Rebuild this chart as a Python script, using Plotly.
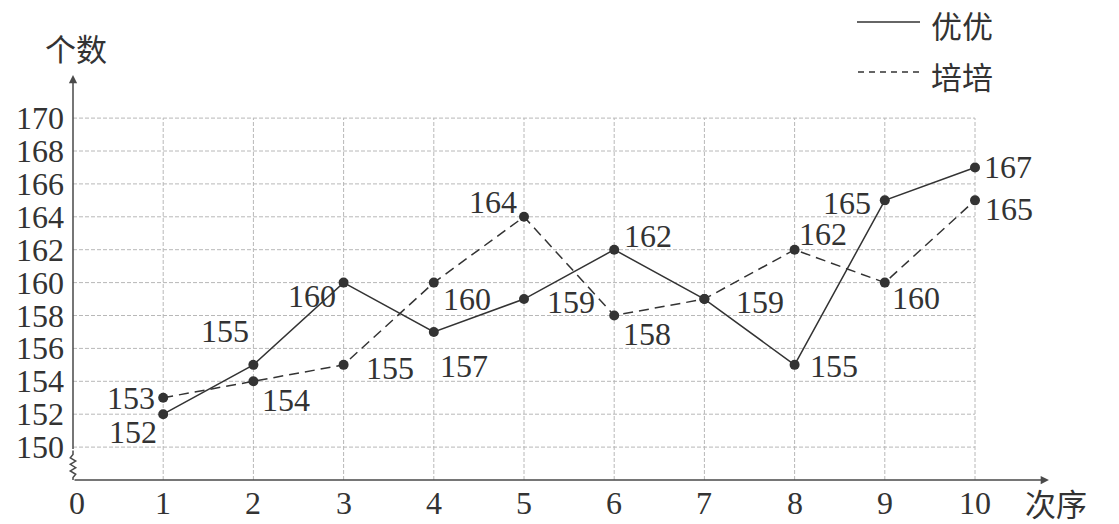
import plotly.graph_objects as go

# ---- data ----
orders = [1, 2, 3, 4, 5, 6, 7, 8, 9, 10]
youyou = [152, 155, 160, 157, 159, 162, 159, 155, 165, 167]
peipei = [153, 154, 155, 160, 164, 158, 159, 162, 160, 165]
x_tick_labels = [0, 1, 2, 3, 4, 5, 6, 7, 8, 9, 10]
y_tick_labels = [150, 152, 154, 156, 158, 160, 162, 164, 166, 168, 170]
series_names = ["优优", "培培"]
x_title = "次序"
y_title = "个数"

# ---- style ----
PAD = 8                      # default page body margin
W, H = 1119 - PAD, 524 - PAD
X0PX, XPU = 73.0, 90.2       # window pixel of x=0, pixels per unit
YB, YBPX, YPU = 148.0, 480.0, 16.45  # axis baseline value, its window pixel, px per unit
xr = [-(X0PX - PAD) / XPU, (W - (X0PX - PAD)) / XPU]
yr = [YB - (H - (YBPX - PAD)) / YPU, YB + (YBPX - PAD) / YPU]

INK = "#333333"
AX = "#4a4a4a"
GRID = "#b8b8b8"
FONT = "Liberation Serif, Noto Sans CJK SC, serif"
CJK = "Noto Sans CJK SC, sans-serif"
FS = 32
CFS = 31


def px2x(p):
    return (p - X0PX) / XPU


def py2y(p):
    return YB + (YBPX - p) / YPU


# label offsets in pixels (dx, dy with +dy downward)
off_y = [(-30, 18), (-28, -34), (-32, 13), (30, 34), (47, 3), (34, -14), (56, 3), (39, 1), (-38, 3), (33, 0)]
off_p = [(-32, 0), (33, 19), (46, 3), (33, 16), (-31, -15), (33, 18), None, (28, -16), (31, 15), (34, 9)]

fig = go.Figure()

shapes = []
# grid
for v in y_tick_labels:
    shapes.append(dict(type="line", xref="x", yref="y", x0=0, x1=10, y0=v, y1=v,
                       line=dict(color=GRID, width=1, dash="4px,2px"), layer="below"))
for xv in x_tick_labels[1:]:
    shapes.append(dict(type="line", xref="x", yref="y", x0=xv, x1=xv, y0=YB, y1=max(y_tick_labels),
                       line=dict(color=GRID, width=1, dash="4px,2px"), layer="below"))
# y-axis zigzag break
zx = 0.03
path = (f"M 0,{YB} L 0,{YB+0.15} L {zx},{YB+0.35} L {-zx},{YB+0.55} L {zx},{YB+0.75} "
        f"L {-zx},{YB+0.95} L {zx},{YB+1.15} L {-zx},{YB+1.35} L 0,{YB+1.55} L 0,{YB+1.8}")
shapes.append(dict(type="path", xref="x", yref="y", path=path, line=dict(color=AX, width=1.5)))
# legend lines
shapes.append(dict(type="line", xref="x", yref="y", x0=px2x(857), x1=px2x(920), y0=py2y(22), y1=py2y(22),
                   line=dict(color=INK, width=1.5)))
shapes.append(dict(type="line", xref="x", yref="y", x0=px2x(858), x1=px2x(920), y0=py2y(72), y1=py2y(72),
                   line=dict(color=INK, width=1.5, dash="6px,5px")))

ann = []
# axes with arrows
ann.append(dict(x=10.82, y=YB, ax=0, ay=YB, xref="x", yref="y", axref="x", ayref="y", text="",
                showarrow=True, arrowhead=2, arrowsize=1.1, arrowwidth=1.5, arrowcolor=AX))
ann.append(dict(x=0, y=py2y(75), ax=0, ay=YB + 1.8, xref="x", yref="y", axref="x", ayref="y", text="",
                showarrow=True, arrowhead=2, arrowsize=1.1, arrowwidth=1.5, arrowcolor=AX))
# tick labels
for v in y_tick_labels:
    ann.append(dict(x=px2x(66), y=v, xref="x", yref="y", text=str(v), showarrow=False,
                    xanchor="right", yanchor="middle", font=dict(family=FONT, size=FS, color=INK)))
for xv in x_tick_labels:
    ann.append(dict(x=xv + (0.04 if xv == 0 else 0), y=py2y(503), xref="x", yref="y", text=str(xv),
                    showarrow=False, xanchor="center", yanchor="middle",
                    font=dict(family=FONT, size=FS, color=INK)))
# axis titles
ann.append(dict(x=px2x(76), y=py2y(47), xref="x", yref="y", text=y_title, showarrow=False,
                font=dict(family=CJK, size=CFS, color=INK)))
ann.append(dict(x=px2x(1056), y=py2y(502), xref="x", yref="y", text=x_title, showarrow=False,
                font=dict(family=CJK, size=CFS, color=INK)))
# legend text
ann.append(dict(x=px2x(929), y=py2y(24), xref="x", yref="y", text=series_names[0], showarrow=False,
                xanchor="left", font=dict(family=CJK, size=CFS, color=INK)))
ann.append(dict(x=px2x(929), y=py2y(75), xref="x", yref="y", text=series_names[1], showarrow=False,
                xanchor="left", font=dict(family=CJK, size=CFS, color=INK)))

# series
fig.add_trace(go.Scatter(x=orders, y=youyou, mode="lines+markers", name=series_names[0],
                         line=dict(color=INK, width=1.5), marker=dict(color=INK, size=10)))
fig.add_trace(go.Scatter(x=orders, y=peipei, mode="lines+markers", name=series_names[1],
                         line=dict(color=INK, width=1.5, dash="10px,6px"), marker=dict(color=INK, size=10)))

# data labels
for series, offs in ((youyou, off_y), (peipei, off_p)):
    for xv, v, o in zip(orders, series, offs):
        if o is None:
            continue
        ann.append(dict(x=xv, y=v, xref="x", yref="y", text=str(v), showarrow=False,
                        xshift=o[0], yshift=-o[1], xanchor="center", yanchor="middle",
                        font=dict(family=FONT, size=FS, color=INK)))

fig.update_layout(
    width=W, height=H, margin=dict(l=0, r=0, t=0, b=0),
    paper_bgcolor="white", plot_bgcolor="white", showlegend=False,
    xaxis=dict(range=xr, visible=False, fixedrange=True),
    yaxis=dict(range=yr, visible=False, fixedrange=True),
    shapes=shapes, annotations=ann,
)
fig.write_html("out.html")
